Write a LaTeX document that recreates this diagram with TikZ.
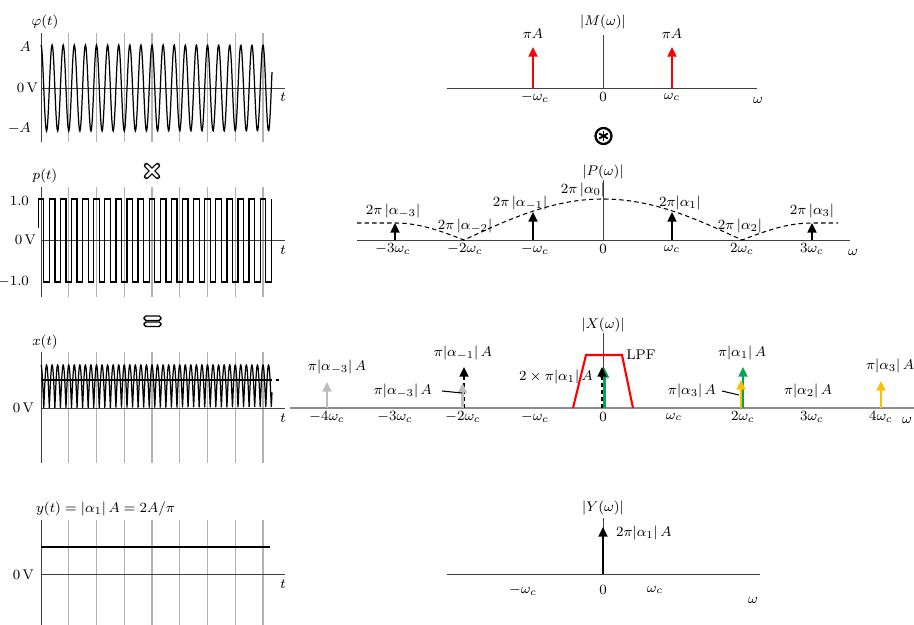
\documentclass[tikz,border=0pt]{standalone}
\usepackage{xcolor}
\usepackage{tikz}
\usepackage{amsmath}
\usetikzlibrary{arrows.meta, positioning, calc}
\definecolor{carrier}{HTML}{FF0000}
\definecolor{fundamental}{HTML}{00A651}
\definecolor{harmonic}{HTML}{FFBF00}
\definecolor{faded}{HTML}{BDBDBD}

\begin{document}
\begin{tikzpicture}[
  x=0.02cm, y=-0.02cm,
  lbl/.style={font=\footnotesize, inner sep=1pt},
  ax/.style={black!75, line width=0.5pt},
  gridln/.style={black!30, line width=0.6pt},
  sig/.style={line width=0.7pt},
  spike/.style={-{Triangle[length=5.5pt, width=5pt]}, line width=1.3pt},
  dspike/.style={spike, dash pattern=on 2.5pt off 1.5pt},
]
  \useasboundingbox (0,0) rectangle (914,625);

  % ---------- time domain ----------
  \foreach \ya/\yb in {33/142, 187/297, 352/463, 520/625} {
    \foreach \k in {1,...,8}
      \draw[gridln] ({41+27.75*\k},\ya) -- ({41+27.75*\k},\yb);
    \draw[ax] (41,\ya) -- (41,\yb);
  }
  \foreach \y in {88,240,408,574}
    \draw[ax] (41,\y) -- (285,\y);

  % carrier
  \draw[sig] plot[domain=41:272, samples=500] (\x,{88-43*cos(32.432*(\x-41))});
  \node[lbl] (phi) at (45,22) {$\varphi(t)$};
  \node[lbl, anchor=east] (amp) at (33,47) {$A$};
  \node[lbl, anchor=east] (zero1) at (40,88) {0\,V};
  \node[lbl, anchor=east] (namp) at (33,128) {$-A$};
  \node[lbl] (t1) at (283,97) {$t$};

  % times
  \draw[line width=3pt, line cap=round] (146.5,165.5) -- (157.5,176.5) (146.5,176.5) -- (157.5,165.5);
  \draw[white, line width=1.5pt, line cap=round] (146.5,165.5) -- (157.5,176.5) (146.5,176.5) -- (157.5,165.5);

  % switching
  \draw[sig] (38.2,228) -- (38.2,199)
    \foreach \k in {0,...,20} {
      -- ({43.8+11.1*\k},199) -- ({43.8+11.1*\k},282)
      -- ({49.3+11.1*\k},282) -- ({49.3+11.1*\k},199)
    };
  \node[lbl] (pt) at (45,176) {$p(t)$};
  \node[lbl, anchor=east] (one) at (31,201) {1.0};
  \node[lbl, anchor=east] (zero2) at (38,240) {0\,V};
  \node[lbl, anchor=east] (none) at (31,282) {$-$1.0};
  \node[lbl] (t2) at (283,250) {$t$};

  % equals
  \draw[line width=0.8pt, rounded corners=1pt] (144,316) rectangle (161,320.5);
  \draw[line width=0.8pt, rounded corners=1pt] (144,322) rectangle (161,326.5);

  % product
  \draw[sig] plot[domain=41:272, samples=1000] (\x,{408-43*abs(cos(32.432*(\x-41)))});
  \draw[sig] (41,380) -- (272,380);
  \draw[sig] (276,380) -- (279,380);
  \node[lbl] (xt) at (45,342) {$x(t)$};
  \node[lbl, anchor=east] (zero3) at (36,408) {0\,V};
  \node[lbl] (t3) at (283,418) {$t$};

  % output
  \draw[sig] (41,547) -- (270,547);
  \node[lbl, anchor=west] (yt) at (34,509) {$y(t) = |\alpha_1|\,A = 2A/\pi$};
  \node[lbl, anchor=east] (zero4) at (36,575) {0\,V};
  \node[lbl] (t4) at (283,584) {$t$};

  % ---------- M spectrum ----------
  \draw[ax] (447,88) -- (757,88);
  \draw[ax] (603,35) -- (603,88);
  \draw[spike, carrier] (533,88) -- (533,47);
  \draw[spike, carrier] (672,88) -- (672,47);
  \node[lbl] (mlab) at (603,22) {$|M(\omega)|$};
  \node[lbl] (mneg) at (533,34) {$\pi A$};
  \node[lbl] (mpos) at (672,34) {$\pi A$};
  \foreach \xx/\tx [count=\i] in {535/-\omega_c, 603/0, 672/\omega_c}
    \node[lbl] (mt\i) at (\xx,97) {$\tx$};
  \node[lbl] (mw) at (758,100) {$\omega$};

  % convolution
  \draw[line width=1.3pt] (603.5,136) circle (8);
  \foreach \a in {90,30,150}
    \draw[line width=1.1pt] ($(603.5,136)+(\a:5)$) -- ($(603.5,136)+(\a+180:5)$);

  % ---------- P spectrum ----------
  \draw[ax] (357,240) -- (850,240);
  \draw[ax] (603,180) -- (603,240);
  \draw[dash pattern=on 2.5pt off 1.8pt, line width=0.6pt]
    (357,223) -- (395,223)
    -- plot[domain=395:464, samples=30] (\x,{240-17*cos(90*(\x-395)/69)})
    -- plot[domain=464:742, samples=80] (\x,{240-41*cos(90*(\x-603)/139)})
    -- plot[domain=742:812, samples=30] (\x,{240-17*sin(90*(\x-742)/70)})
    -- (838,223);
  \foreach \xx/\yy in {395/223, 533/212, 672/212, 812/223}
    \draw[spike] (\xx,240) -- (\xx,\yy);
  \node[lbl] (plab) at (603,172) {$|P(\omega)|$};
  \node[lbl] (am3) at (393,211) {$2\pi\,|\alpha_{-3}|$};
  \node[lbl] (am2) at (465,226) {$2\pi\,|\alpha_{-2}|$};
  \node[lbl] (am1) at (520,203) {$2\pi\,|\alpha_{-1}|$};
  \node[lbl] (a0) at (583,190) {$2\pi\,|\alpha_{0}|$};
  \node[lbl] (a1) at (680,203) {$2\pi|\alpha_{1}|$};
  \node[lbl] (a2) at (740,226) {$2\pi\,|\alpha_{2}|$};
  \node[lbl] (a3) at (812,211) {$2\pi\,|\alpha_{3}|$};
  \foreach \xx/\tx [count=\i] in {393/-3\omega_c, 465/-2\omega_c, 535/-\omega_c, 603/0,
                                  672/\omega_c, 742/2\omega_c, 812/3\omega_c}
    \node[lbl] (pt\i) at (\xx,249) {$\tx$};
  \node[lbl] (pw) at (853,252) {$\omega$};

  % ---------- X spectrum ----------
  \draw[black!45, line width=0.8pt] (290,408) -- (914,408);
  \draw[ax] (603,333) -- (603,408);
  \draw[carrier, line width=1.2pt] (573,408) -- (586,355) -- (622,355) -- (633,408);
  \draw[spike, faded] (327,408) -- (327,382);
  \draw[dspike] (464,408) -- (464,367);
  \draw[spike, faded] (462.5,408) -- (462.5,383);
  \draw[spike, fundamental] (604.5,408) -- (604.5,368);
  \draw[dspike] (602,408) -- (602,367);
  \draw[spike, fundamental] (743,408) -- (743,367);
  \draw[spike, harmonic] (741,408) -- (741,380);
  \draw[spike, harmonic] (881,408) -- (881,381);
  \node[lbl] (xlab) at (603,325) {$|X(\omega)|$};
  \node[lbl] (xm3) at (337,367) {$\pi|\alpha_{-3}|\,A$};
  \node[lbl] (xm1) at (463,353) {$\pi|\alpha_{-1}|\,A$};
  \node[lbl, anchor=east] (xm3b) at (434,391) {$\pi|\alpha_{-3}|\,A$};
  \node[lbl, anchor=east] (xdc) at (595,377) {$2\times\pi|\alpha_1|\,A$};
  \node[lbl] (lpf) at (641,355) {LPF};
  \node[lbl] (x1) at (742,353) {$\pi|\alpha_1|\,A$};
  \node[lbl, anchor=east] (x3b) at (718,391) {$\pi|\alpha_3|\,A$};
  \node[lbl] (x2) at (808,391) {$\pi|\alpha_2|\,A$};
  \node[lbl] (x3) at (890,366) {$\pi|\alpha_3|\,A$};
  \draw[line width=0.6pt] (xm3b.east) ++(8,0) -- (462,393);
  \draw[line width=0.6pt] (x3b.east) ++(4,0) -- (739,395);
  \foreach \xx/\tx [count=\i] in {327/-4\omega_c, 395/-3\omega_c, 463/-2\omega_c, 535/-\omega_c,
                                  603/0, 674/\omega_c, 743/2\omega_c, 812/3\omega_c, 881/4\omega_c}
    \node[lbl] (xt\i) at (\xx,417) {$\tx$};
  \node[lbl] (xw) at (907,420) {$\omega$};

  % ---------- Y spectrum ----------
  \draw[ax] (447,574) -- (760,574);
  \draw[ax] (603,518) -- (603,574);
  \draw[spike] (603,574) -- (603,527);
  \node[lbl] (ylab) at (603,508) {$|Y(\omega)|$};
  \node[lbl, anchor=west] (ydc) at (614,533) {$2\pi|\alpha_1|\,A$};
  \foreach \xx/\tx [count=\i] in {523/-\omega_c, 603/0, 655/\omega_c}
    \node[lbl] (yt\i) at (\xx,590) {$\tx$};
  \node[lbl] (yw) at (753,600) {$\omega$};
\end{tikzpicture}
\end{document}
